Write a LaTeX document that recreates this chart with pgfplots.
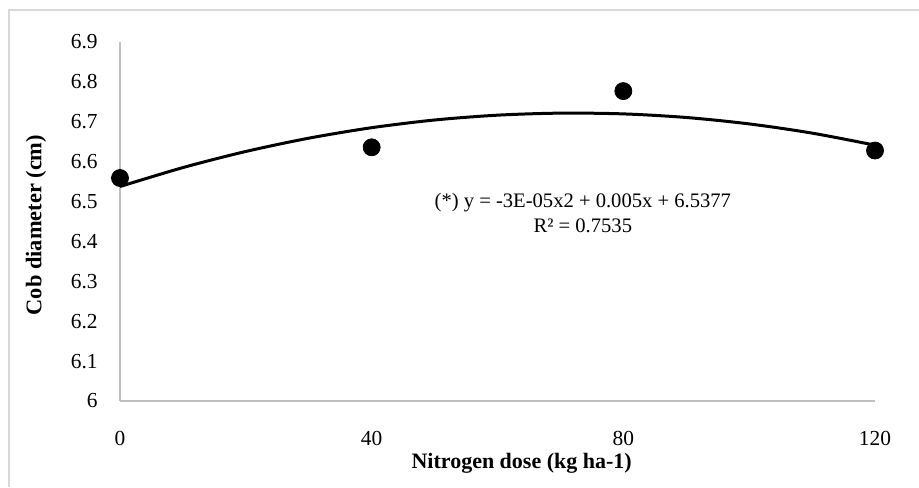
\documentclass[border=0pt]{standalone}
\usepackage{pgfplots}
\pgfplotsset{compat=1.18}
\usepackage{fontspec}
\setmainfont{Liberation Serif}
\definecolor{axgray}{HTML}{BFBFBF}
\definecolor{bordergray}{HTML}{D9D9D9}
\begin{document}
\fontsize{10}{12}\selectfont
\begin{tikzpicture}
\useasboundingbox (-60pt,-43pt) rectangle (399.5pt,200.5pt);
\draw[bordergray, line width=1.2pt] (-55.5pt,-43pt) -- (-55.5pt,195.5pt) -- (399.5pt,195.5pt);
\begin{axis}[
  at={(0pt,0pt)}, anchor=origin,
  scale only axis,
  width=377.5pt, height=179.5pt,
  xmin=0, xmax=120, ymin=6, ymax=6.9,
  axis x line*=bottom, axis y line*=left,
  axis line style={axgray, line width=0.8pt, -},
  major tick length=0pt,
  xtick={0,40,80,120}, xticklabels={0,40,80,120},
  ytick={6,6.1,6.2,6.3,6.4,6.5,6.6,6.7,6.8,6.9},
  yticklabels={6,6.1,6.2,6.3,6.4,6.5,6.6,6.7,6.8,6.9},
  xticklabel style={anchor=center, inner sep=0pt, yshift=-18.5pt, font=\fontsize{10.7}{12}\selectfont},
  yticklabel style={anchor=east, inner sep=0pt, xshift=-11pt, font=\fontsize{10.7}{12}\selectfont},
  xlabel={\textbf{Nitrogen dose (kg ha-1)}},
  xlabel style={at={(axis description cs:0.532,-0.1727)}, anchor=center, inner sep=0pt, font=\fontsize{11}{13}\selectfont},
  ylabel={\textbf{Cob diameter (cm)}},
  ylabel style={at={(axis description cs:-0.1113,0.49)}, anchor=center, inner sep=0pt, font=\fontsize{11.2}{13}\selectfont},
  clip=false,
]
\addplot[black, line width=1.5pt, smooth, no marks] coordinates {
  (0,6.5377) (10,6.5852) (20,6.6256) (30,6.6589) (40,6.6852) (50,6.7045)
  (60,6.7166) (70,6.7217) (80,6.7198) (90,6.7108) (100,6.6947) (110,6.6716) (120,6.6414)
};
\addplot[only marks, mark=*, mark size=4.25pt, black] coordinates {
  (0,6.559) (40,6.636) (80,6.777) (120,6.628)
};
\node[align=center, font=\fontsize{10.3}{12.5}\selectfont, inner sep=0pt] at (axis description cs:0.613,0.525)
  {(*) y = -3E-05x2 + 0.005x + 6.5377\\R² = 0.7535};
\end{axis}
\end{tikzpicture}
\end{document}
